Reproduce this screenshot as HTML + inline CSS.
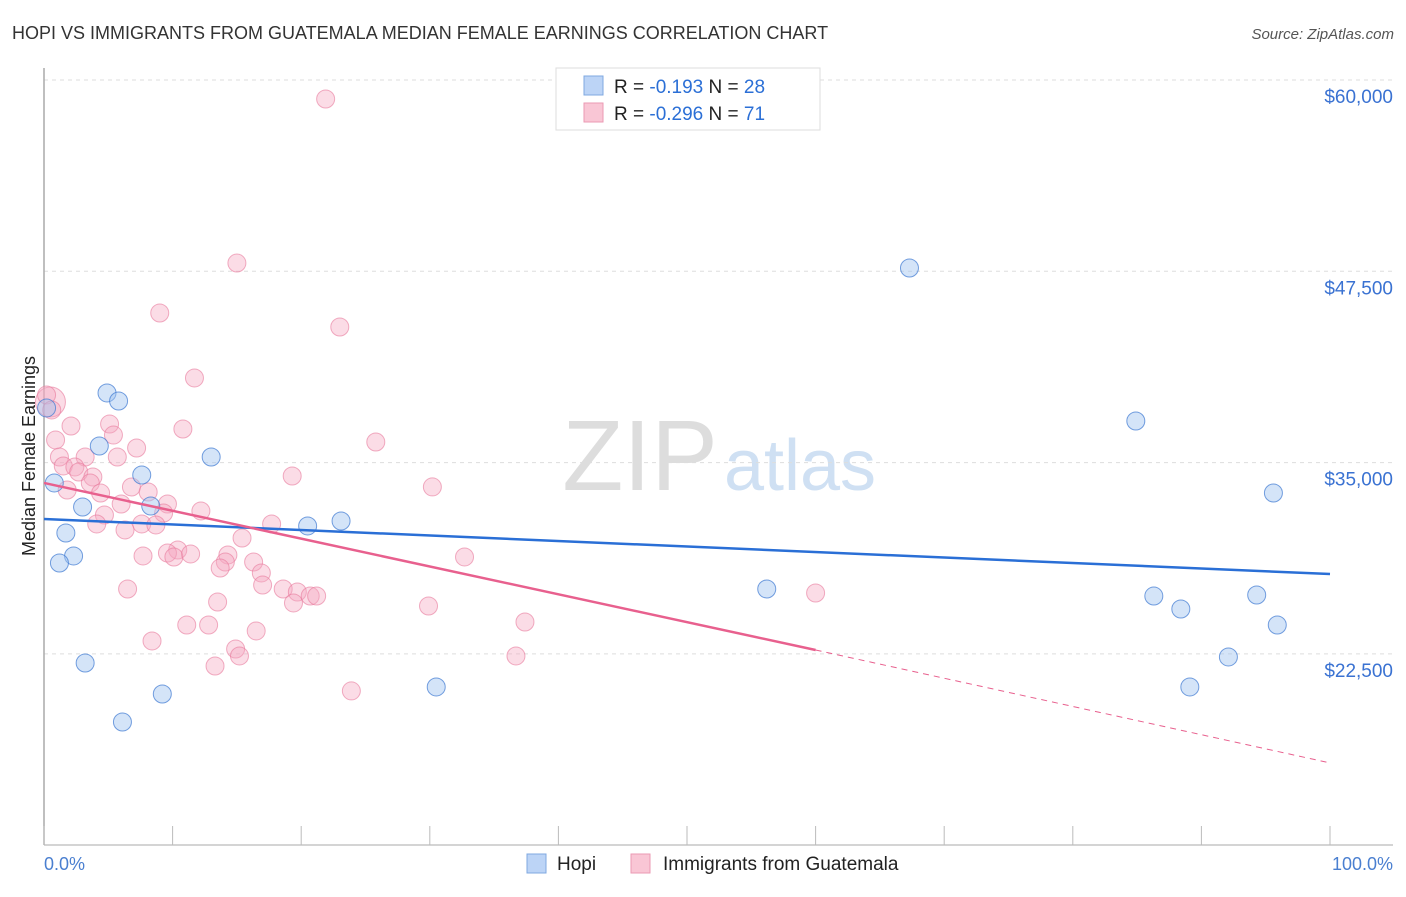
<!DOCTYPE html>
<html><head><meta charset="utf-8"><style>
body{margin:0;background:#fff;font-family:"Liberation Sans",sans-serif;}
svg text{font-family:"Liberation Sans",sans-serif;}
</style></head><body>
<svg id="chart" width="1406" height="892">
<text x="12" y="39" font-size="18" fill="#333">HOPI VS IMMIGRANTS FROM GUATEMALA MEDIAN FEMALE EARNINGS CORRELATION CHART</text>
<text x="1394" y="39" font-size="15" fill="#555" text-anchor="end" font-style="italic">Source: ZipAtlas.com</text>
<text x="640" y="490" font-size="100" fill="#ddd" font-family="Liberation Serif" text-anchor="middle">ZIP</text>
<text x="800" y="490" font-size="72" fill="#cfe0f3" text-anchor="middle">atlas</text>
<g id="grid"></g>
<line x1="44" y1="68" x2="44" y2="845" stroke="#aaa" stroke-width="1.5"/>
<line x1="44" y1="845" x2="1393" y2="845" stroke="#aaa" stroke-width="1"/>
<g id="ticks"></g>
<g id="pts"></g>
<g id="trends"></g>
<text x="35" y="456" font-size="18" fill="#222" text-anchor="middle" transform="rotate(-90 35 456)">Median Female Earnings</text>
<text x="44" y="870" font-size="18" fill="#4a7fd0">0.0%</text>
<text x="1393" y="870" font-size="18" fill="#4a7fd0" text-anchor="end">100.0%</text>
<g>
<rect x="556" y="68" width="264" height="62" fill="#fff" stroke="#ddd"/>
<rect x="584" y="76" width="19" height="19" fill="#bcd4f6" stroke="#7fa8e0"/>
<rect x="584" y="103" width="19" height="19" fill="#f9c6d5" stroke="#eb9ab3"/>
<text x="614" y="93" font-size="19" fill="#222">R = <tspan fill="#2b6fd6">-0.193</tspan>   N = <tspan fill="#2b6fd6">28</tspan></text>
<text x="614" y="120" font-size="19" fill="#222">R = <tspan fill="#2b6fd6">-0.296</tspan>   N = <tspan fill="#2b6fd6">71</tspan></text>
</g>
<g>
<rect x="527" y="854" width="19" height="19" fill="#bcd4f6" stroke="#7fa8e0"/>
<text x="557" y="870" font-size="19" fill="#222">Hopi</text>
<rect x="631" y="854" width="19" height="19" fill="#f9c6d5" stroke="#eb9ab3"/>
<text x="663" y="870" font-size="19" fill="#222">Immigrants from Guatemala</text>
</g>
</svg>
<script>
const yTicks=[60000,47500,35000,22500];
const yTickLabels=["$60,000","$47,500","$35,000","$22,500"];
const xTicks=[0,10,20,30,40,50,60,70,80,90,100];
const hopiX=[0.2,4.9,5.8,4.3,0.8,7.6,3.0,8.3,13.0,1.7,2.3,1.2,20.5,23.1,3.2,9.2,6.1,30.5,67.3,84.9,95.6,56.2,86.3,88.4,94.3,95.9,92.1,89.1];
const hopiY=[38570,39550,39025,36085,33670,34190,32100,32165,35365,30400,28900,28440,30860,31185,21905,19880,18050,20340,47715,37720,33015,26740,26280,25435,26350,24390,22300,20340];
const guatX=[11.7,0.5,2.1,5.1,5.4,10.8,0.9,7.2,1.2,3.2,5.7,25.8,1.5,2.4,2.7,3.8,3.6,19.3,1.8,4.4,6.8,8.1,6.0,9.6,9.3,4.7,4.1,12.2,6.3,7.6,8.7,17.7,15.4,7.7,10.4,9.6,10.1,11.4,14.3,14.1,13.7,16.3,16.9,17.0,18.6,19.7,19.4,20.7,21.2,6.5,13.5,11.1,12.8,16.5,8.4,14.9,15.2,13.3,23.9,21.9,15.0,9.0,23.0,30.2,32.7,29.9,37.4,36.7,60.0,0.2,0.6];
const guatY=[40530,38960,37390,37520,36800,37195,36480,35955,35365,35365,35365,36345,34780,34715,34385,34060,33670,34125,33210,33015,33405,33080,32295,32295,31705,31575,30990,31840,30600,30990,30925,30990,30075,28900,29290,29095,28830,29030,28965,28505,28110,28505,27790,27000,26740,26545,25830,26285,26285,26740,25890,24390,24390,24000,23345,22820,22365,21710,20080,58760,48040,44775,43860,33410,28835,25630,24585,22365,26480,39420,38440];
const hopiTrend=[31315,27720];
const guatTrend=[33670,22755,15375];
const trendX=[0,60,100];
const NS="http://www.w3.org/2000/svg";
const X=p=>44+p*12.86;
const Y=v=>80+(60000-v)*191.3/12500;
function mk(tag,attrs,parent){const e=document.createElementNS(NS,tag);for(const k in attrs)e.setAttribute(k,attrs[k]);document.getElementById(parent).appendChild(e);return e;}
yTicks.forEach((v,i)=>{
 const l=mk('line',{x1:44,x2:1393,y1:Y(v),y2:Y(v),stroke:'#ddd','stroke-dasharray':'4,4'},'grid');
 
 
 const t=mk('text',{x:1393,y:Y(v)+23,'font-size':19,fill:'#3a72d2','text-anchor':'end'},'grid');
 t.textContent=yTickLabels[i];
 
 
});
xTicks.forEach(p=>{
 const l=mk('line',{x1:X(p),x2:X(p),y1:826,y2:845,stroke:'#bbb'},'ticks');
 
 
});
guatX.forEach((p,i)=>{
 const big=(i===1);
 const c=mk('circle',{cx:X(p),cy:Y(guatY[i]),r:big?15:9,fill:'rgba(246,168,192,0.4)',stroke:'rgba(232,120,155,0.6)','stroke-width':1},'pts');
 
 
});
hopiX.forEach((p,i)=>{
 const c=mk('circle',{cx:X(p),cy:Y(hopiY[i]),r:9,fill:'rgba(160,195,240,0.45)',stroke:'rgba(60,120,210,0.7)','stroke-width':1},'pts');
 
 
});
const hl=mk('line',{x1:X(0),y1:Y(hopiTrend[0]),x2:X(100),y2:Y(hopiTrend[1]),stroke:'#2a6fd6','stroke-width':2.5},'trends');


const gl=mk('line',{x1:X(trendX[0]),y1:Y(guatTrend[0]),x2:X(trendX[1]),y2:Y(guatTrend[1]),stroke:'#e8608e','stroke-width':2.5},'trends');


const gd=mk('line',{x1:X(trendX[1]),y1:Y(guatTrend[1]),x2:X(trendX[2]),y2:Y(guatTrend[2]),stroke:'#e8608e','stroke-width':1,'stroke-dasharray':'6,5'},'trends');


</script>
</body></html>
